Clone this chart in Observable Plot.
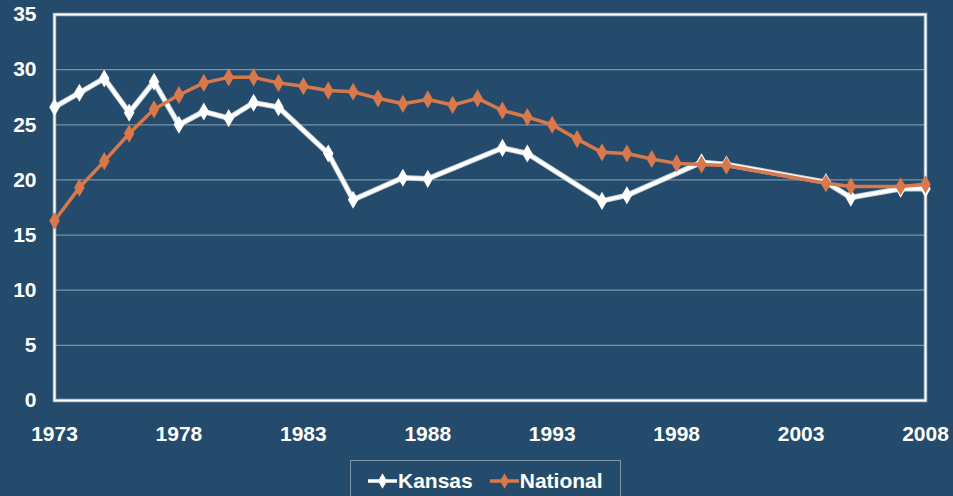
<!DOCTYPE html>
<html>
<head>
<meta charset="utf-8">
<script src="https://cdn.jsdelivr.net/npm/d3@7"></script>
<script src="https://cdn.jsdelivr.net/npm/@observablehq/plot@0.6"></script>
<style>
  html, body { margin: 0; padding: 0; background: #244b6b; overflow: hidden; width: 953px; height: 496px; }
  #chart { position: absolute; left: 0; top: 0; }
  #legend {
    position: absolute; left: 350px; top: 460px; width: 269px; height: 44px;
    border: 1px solid #7d95ab; box-sizing: content-box;
    font-family: "Liberation Sans", Arial, sans-serif; font-weight: bold; font-size: 21px; color: #ffffff;
    display: flex; align-items: flex-start; padding-top: 8px;
  }
  #legend .item { display: flex; align-items: center; }
  #legend svg { display: block; }
</style>
</head>
<body>
<div id="chart"></div>
<div id="legend"></div>
<script>
const kansasYears  = [1973,1974,1975,1976,1977,1978,1979,1980,1981,1982,1984,1985,1987,1988,1991,1992,1995,1996,1999,2000,2004,2005,2007,2008];
const kansasValues = [26.6,27.9,29.2,26.1,28.9,25.0,26.2,25.6,27.0,26.6,22.4,18.2,20.2,20.1,22.9,22.4,18.1,18.6,21.6,21.4,19.8,18.4,19.2,19.2];

const nationalYears  = [1973,1974,1975,1976,1977,1978,1979,1980,1981,1982,1983,1984,1985,1986,1987,1988,1989,1990,1991,1992,1993,1994,1995,1996,1997,1998,1999,2000,2004,2005,2007,2008];
const nationalValues = [16.3,19.3,21.7,24.2,26.4,27.7,28.8,29.3,29.3,28.8,28.5,28.1,28.0,27.4,26.9,27.3,26.8,27.4,26.3,25.7,25.0,23.7,22.5,22.4,21.9,21.5,21.4,21.3,19.7,19.4,19.4,19.6];

const xTicks = [1973,1978,1983,1988,1993,1998,2003,2008];
const yTicks = [0,5,10,15,20,25,30,35];
const gridValues = [5,10,15,20,25,30];

const seriesNames = ["Kansas","National"];
const seriesColors = ["#ffffff","#d9784a"];

const kansas = kansasYears.map((y,i) => ({year: y, value: kansasValues[i], series: "Kansas"}));
const national = nationalYears.map((y,i) => ({year: y, value: nationalValues[i], series: "National"}));

const font = "'Liberation Sans', Arial, sans-serif";

const chart = Plot.plot({
  width: 953,
  height: 455,
  marginLeft: 54,
  marginRight: 28,
  marginTop: 14,
  marginBottom: 55,
  style: {background: "transparent", fontFamily: font, fontSize: "21px", fontWeight: "bold", color: "#ffffff"},
  x: {domain: [1973, 2008], ticks: xTicks, tickFormat: d => String(d), tickSize: 0, tickPadding: 26, label: null},
  y: {domain: [0, 35], ticks: yTicks, tickSize: 0, tickPadding: 18, label: null},
  marks: [
    Plot.ruleY(gridValues, {stroke: "#7b93aa", strokeWidth: 1.2}),
    Plot.frame({stroke: "#a9b8c6", strokeWidth: 3.5}),
    Plot.frame({stroke: "#ffffff", strokeWidth: 1.6}),
    Plot.line(kansas, {x: "year", y: "value", stroke: "#c7d2dc", strokeWidth: 5.5, strokeLinejoin: "round"}),
    Plot.line(kansas, {x: "year", y: "value", stroke: seriesColors[0], strokeWidth: 3.5, strokeLinejoin: "round"}),
    Plot.dot(kansas, {x: "year", y: "value", symbol: "diamond", r: 5.5, fill: seriesColors[0]}),
    Plot.line(national, {x: "year", y: "value", stroke: seriesColors[1], strokeWidth: 3.5, strokeLinejoin: "round"}),
    Plot.dot(national, {x: "year", y: "value", symbol: "diamond", r: 5.5, fill: seriesColors[1]})
  ]
});
document.getElementById("chart").appendChild(chart);

// Legend
const legend = d3.select("#legend");
seriesNames.forEach((name, i) => {
  const item = legend.append("div").attr("class", "item")
    .style("margin-left", i === 0 ? "16px" : "16px");
  const sw = item.append("svg").attr("width", 31).attr("height", 20);
  sw.append("line").attr("x1", 1).attr("x2", 30).attr("y1", 10).attr("y2", 10)
    .attr("stroke", seriesColors[i]).attr("stroke-width", 3.5);
  sw.append("path").attr("d", d3.symbol(d3.symbolDiamond, 70)()).attr("transform", "translate(15.5,10)")
    .attr("fill", seriesColors[i]);
  item.append("span").text(name);
});
</script>
</body>
</html>
